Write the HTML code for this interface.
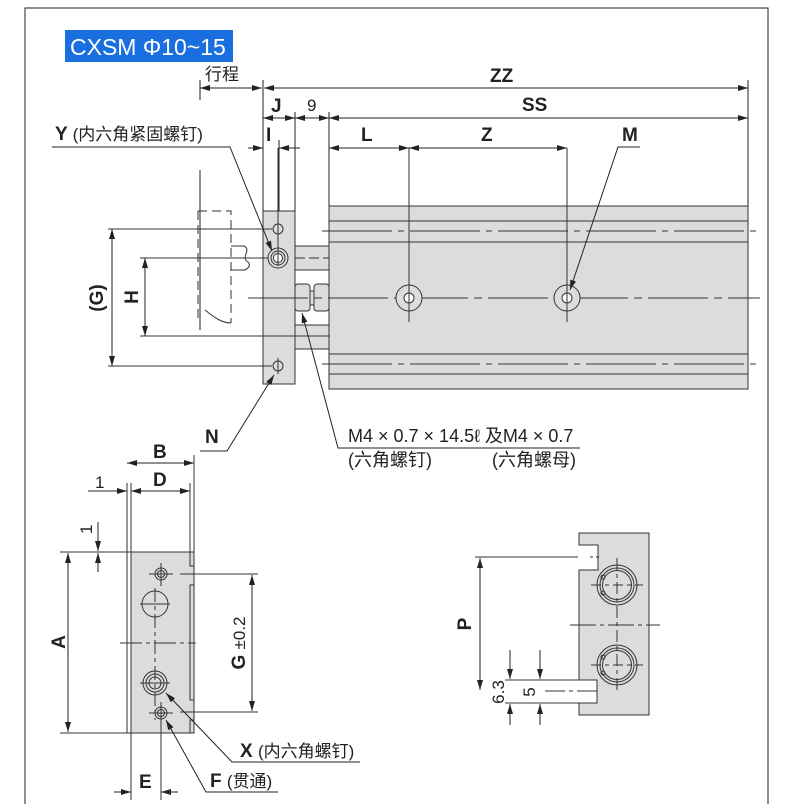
<!DOCTYPE html>
<html><head><meta charset="utf-8"><style>
html,body{margin:0;padding:0;background:#fff;}
svg{display:block;}
text{font-family:"Liberation Sans","Noto Sans CJK SC",sans-serif;fill:#222;}
.b{font-weight:bold;font-size:19px;}
.n{font-size:17px;}
.m{font-size:18px;}
.c{font-size:17px;}
</style></head><body>
<svg width="800" height="804" viewBox="0 0 800 804" xmlns="http://www.w3.org/2000/svg">
<defs>
<marker id="a" viewBox="0 0 10 6" refX="10" refY="3" markerWidth="10" markerHeight="6" markerUnits="userSpaceOnUse" orient="auto-start-reverse"><path d="M0,0 L10,3 L0,6 z" fill="#222"/></marker>
</defs>
<g stroke="#222" stroke-width="1" fill="none">
<path d="M25,804 V8 H768 V804"/>
</g>
<rect x="65" y="30" width="168" height="32" fill="#1a6fe0"/>
<text x="70" y="55" style="font-size:23px;fill:#fff;">CXSM Φ10~15</text>

<g stroke="#333" stroke-width="1">
<rect x="329" y="206" width="419" height="183" fill="#dcdcdc"/>
<line x1="329" y1="221" x2="748" y2="221"/><line x1="329" y1="242" x2="748" y2="242"/>
<line x1="329" y1="354" x2="748" y2="354"/><line x1="329" y1="374" x2="748" y2="374"/>
<line x1="322" y1="231" x2="758" y2="231" stroke-dasharray="70,6,6,6"/>
<line x1="322" y1="364" x2="758" y2="364" stroke-dasharray="70,6,6,6"/>
<rect x="263" y="211" width="32" height="173" fill="#dcdcdc"/>
<rect x="295" y="246" width="34" height="24" fill="#dcdcdc"/>
<rect x="295" y="325" width="34" height="24" fill="#dcdcdc"/>
<rect x="295" y="284" width="15" height="27" rx="3" fill="#dcdcdc"/>
<rect x="314" y="284" width="15" height="27" rx="3" fill="#dcdcdc"/>
<rect x="310" y="291" width="4" height="14" fill="#dcdcdc"/>
<line x1="248" y1="298" x2="760" y2="298" stroke-dasharray="60,6,8,6"/>
<line x1="295" y1="258" x2="329" y2="258" stroke-dasharray="10,4"/>
<line x1="295" y1="336" x2="329" y2="336" stroke-dasharray="10,4"/>
<circle cx="409" cy="298" r="13" fill="#dcdcdc"/><circle cx="409" cy="298" r="5" fill="#fff"/>
<circle cx="567" cy="298" r="13" fill="#dcdcdc"/><circle cx="567" cy="298" r="5" fill="#fff"/>
<line x1="409" y1="148" x2="409" y2="322"/><line x1="567" y1="148" x2="567" y2="322"/>
<circle cx="278" cy="229" r="5" fill="none"/>
<circle cx="278" cy="258" r="10" fill="none"/><circle cx="278" cy="258" r="7" fill="none"/><circle cx="278" cy="258" r="4.5" fill="#fff"/>
<circle cx="278" cy="366" r="5" fill="none"/>
<line x1="278" y1="148" x2="278" y2="266"/><line x1="278" y1="358" x2="278" y2="374"/>
<path d="M198,211 V323 M198,211 H231 V323" fill="none" stroke-dasharray="9,5"/>
<path d="M205,310 C215,318 222,323 231,323" fill="none"/>
<path d="M231,246 H244 M231,270 H244 M244,246 C252,250 240,258 248,262 C252,266 246,270 244,270" fill="none"/>
<line x1="108" y1="229" x2="272" y2="229"/><line x1="140" y1="258" x2="268" y2="258"/>
<line x1="140" y1="336" x2="330" y2="336"/><line x1="108" y1="366" x2="272" y2="366"/>
</g>
<g stroke="#222" stroke-width="1" fill="none">
<line x1="200" y1="80" x2="200" y2="100"/><line x1="200" y1="170" x2="200" y2="330"/>
<line x1="263" y1="80" x2="263" y2="211"/><line x1="295" y1="112" x2="295" y2="211"/>
<line x1="279" y1="140" x2="279" y2="211"/><line x1="329" y1="112" x2="329" y2="206"/>
<line x1="748" y1="80" x2="748" y2="206"/>
<line x1="200" y1="88" x2="262" y2="88" marker-start="url(#a)" marker-end="url(#a)"/>
<line x1="264" y1="88" x2="748" y2="88" marker-start="url(#a)" marker-end="url(#a)"/>
<line x1="263" y1="118" x2="295" y2="118" marker-start="url(#a)" marker-end="url(#a)"/>
<line x1="295" y1="118" x2="329" y2="118" marker-start="url(#a)" marker-end="url(#a)"/>
<line x1="329" y1="118" x2="748" y2="118" marker-start="url(#a)" marker-end="url(#a)"/>
<line x1="248" y1="148" x2="263" y2="148" marker-end="url(#a)"/>
<line x1="300" y1="148" x2="279" y2="148" marker-end="url(#a)"/>
<line x1="329" y1="148" x2="409" y2="148" marker-start="url(#a)" marker-end="url(#a)"/>
<line x1="409" y1="148" x2="567" y2="148" marker-start="url(#a)" marker-end="url(#a)"/>
<line x1="112" y1="229" x2="112" y2="366" marker-start="url(#a)" marker-end="url(#a)"/>
<line x1="145" y1="258" x2="145" y2="336" marker-start="url(#a)" marker-end="url(#a)"/>
<polyline points="52,147 230,147 272,251" marker-end="url(#a)"/>
<polyline points="640,147 618,147 570,290" marker-end="url(#a)"/>
<polyline points="200,451 227,451 274,375" marker-end="url(#a)"/>
<polyline points="580,448 338,448 302,313" marker-end="url(#a)"/>
</g>
<text x="205" y="80" class="n">行程</text>
<text x="490" y="82" class="b">ZZ</text>
<text x="271" y="112" class="b">J</text>
<text x="307" y="111" class="n">9</text>
<text x="522" y="111" class="b">SS</text>
<text x="266" y="141" class="b">I</text>
<text x="361" y="141" class="b">L</text>
<text x="481" y="141" class="b">Z</text>
<text x="622" y="141" class="b">M</text>
<text x="55" y="140" class="b">Y <tspan class="c" style="font-weight:normal">(内六角紧固螺钉)</tspan></text>
<text x="205" y="443" class="b">N</text>
<text x="348" y="442" class="m">M4 × 0.7 × 14.5ℓ  及M4 × 0.7</text>
<text x="348" y="466" class="m">(六角螺钉)</text>
<text x="492" y="466" class="m">(六角螺母)</text>
<text transform="translate(103,298) rotate(-90)" text-anchor="middle" class="b">(G)</text>
<text transform="translate(138,297) rotate(-90)" text-anchor="middle" class="b">H</text>

<g stroke="#333" stroke-width="1">
<rect x="131" y="552" width="63" height="181" fill="#dcdcdc"/>
<line x1="127" y1="483" x2="127" y2="733"/>
<line x1="131" y1="483" x2="131" y2="800"/>
<line x1="194" y1="455" x2="194" y2="560"/>
<line x1="190" y1="483" x2="190" y2="552"/>
<path d="M190,552 V566 H194 M194,585 H190 V700 H194 M194,720 H190 V733" fill="none"/>
<line x1="127" y1="733" x2="194" y2="733"/>
<line x1="60" y1="552" x2="194" y2="552"/>
<line x1="60" y1="733" x2="131" y2="733"/>
<circle cx="161" cy="574" r="6" fill="none"/><circle cx="161" cy="574" r="3.5" fill="none"/>
<line x1="149" y1="574" x2="173" y2="574"/><line x1="161" y1="563" x2="161" y2="586"/>
<circle cx="155" cy="604" r="13" fill="none"/>
<line x1="140" y1="604" x2="170" y2="604"/>
<line x1="155" y1="588" x2="155" y2="720" stroke-dasharray="14,4,4,4"/>
<line x1="120" y1="643" x2="196" y2="643" stroke-dasharray="22,4,4,4"/>
<circle cx="155" cy="683" r="12" fill="none"/><circle cx="155" cy="683" r="9" fill="none"/><circle cx="155" cy="683" r="6" fill="none"/>
<line x1="140" y1="683" x2="170" y2="683"/>
<circle cx="161" cy="713" r="6" fill="none"/><circle cx="161" cy="713" r="3.5" fill="none"/>
<line x1="149" y1="713" x2="173" y2="713"/><line x1="161" y1="702" x2="161" y2="800"/>
<line x1="180" y1="574" x2="258" y2="574"/><line x1="180" y1="712" x2="258" y2="712"/>
</g>
<g stroke="#222" stroke-width="1" fill="none">
<line x1="127" y1="463" x2="194" y2="463" marker-start="url(#a)" marker-end="url(#a)"/>
<line x1="131" y1="491" x2="190" y2="491" marker-start="url(#a)" marker-end="url(#a)"/>
<line x1="88" y1="491" x2="127" y2="491" marker-end="url(#a)"/>
<line x1="98" y1="522" x2="98" y2="551" marker-end="url(#a)"/>
<line x1="98" y1="572" x2="98" y2="553" marker-end="url(#a)"/>
<line x1="68" y1="553" x2="68" y2="732" marker-start="url(#a)" marker-end="url(#a)"/>
<line x1="252" y1="575" x2="252" y2="711" marker-start="url(#a)" marker-end="url(#a)"/>
<line x1="114" y1="792" x2="131" y2="792" marker-end="url(#a)"/>
<line x1="178" y1="792" x2="161" y2="792" marker-end="url(#a)"/>
<polyline points="360,762 232,762 166,693" marker-end="url(#a)"/>
<polyline points="278,792 206,792 166,720" marker-end="url(#a)"/>
</g>
<text x="153" y="458" class="b">B</text>
<text x="153" y="486" class="b">D</text>
<text x="95" y="488" class="n">1</text>
<text transform="translate(92,534) rotate(-90)" class="n">1</text>
<text transform="translate(65,642) rotate(-90)" text-anchor="middle" class="b">A</text>
<text transform="translate(245,643) rotate(-90)" text-anchor="middle" class="b">G <tspan class="n" style="font-weight:normal">±0.2</tspan></text>
<text x="139" y="788" class="b">E</text>
<text x="240" y="757" class="b">X <tspan class="c" style="font-weight:normal">(内六角螺钉)</tspan></text>
<text x="210" y="787" class="b">F <tspan class="c" style="font-weight:normal">(贯通)</tspan></text>

<g stroke="#333" stroke-width="1">
<path d="M579,533 H649 V715 H579 V703 H597 V680 H579 V570 H598 V545 H579 Z" fill="#dcdcdc"/>
<line x1="590" y1="557" x2="600" y2="557" stroke-dasharray="3,3"/>
<circle cx="617" cy="585" r="20" fill="none"/><circle cx="617" cy="585" r="17" fill="none"/><circle cx="617" cy="585" r="14.5" fill="#dcdcdc"/>
<circle cx="603" cy="577" r="2" fill="none"/><circle cx="603" cy="593" r="2" fill="none"/>
<circle cx="617" cy="665" r="20" fill="none"/><circle cx="617" cy="665" r="17" fill="none"/><circle cx="617" cy="665" r="14.5" fill="#dcdcdc"/>
<circle cx="603" cy="657" r="2" fill="none"/><circle cx="603" cy="673" r="2" fill="none"/>
<line x1="591" y1="585" x2="643" y2="585" stroke-dasharray="10,4,4,4"/>
<line x1="591" y1="665" x2="643" y2="665" stroke-dasharray="10,4,4,4"/>
<line x1="617" y1="558" x2="617" y2="692" stroke-dasharray="12,4,4,4"/>
<line x1="570" y1="625" x2="660" y2="625" stroke-dasharray="26,4,4,4"/>
<line x1="545" y1="691" x2="600" y2="691" stroke-dasharray="20,4,4,4"/>
<line x1="475" y1="557" x2="578" y2="557"/>
<line x1="505" y1="680" x2="597" y2="680"/><line x1="505" y1="703" x2="597" y2="703"/>
</g>
<g stroke="#222" stroke-width="1" fill="none">
<line x1="480" y1="558" x2="480" y2="690" marker-start="url(#a)" marker-end="url(#a)"/>
<line x1="510" y1="650" x2="510" y2="679" marker-end="url(#a)"/>
<line x1="510" y1="725" x2="510" y2="704" marker-end="url(#a)"/>
<line x1="540" y1="650" x2="540" y2="679" marker-end="url(#a)"/>
<line x1="540" y1="725" x2="540" y2="704" marker-end="url(#a)"/>
</g>
<text transform="translate(471,624) rotate(-90)" text-anchor="middle" class="b">P</text>
<text transform="translate(504,692) rotate(-90)" text-anchor="middle" class="n">6.3</text>
<text transform="translate(535,692) rotate(-90)" text-anchor="middle" class="n">5</text>
</svg>
</body></html>
